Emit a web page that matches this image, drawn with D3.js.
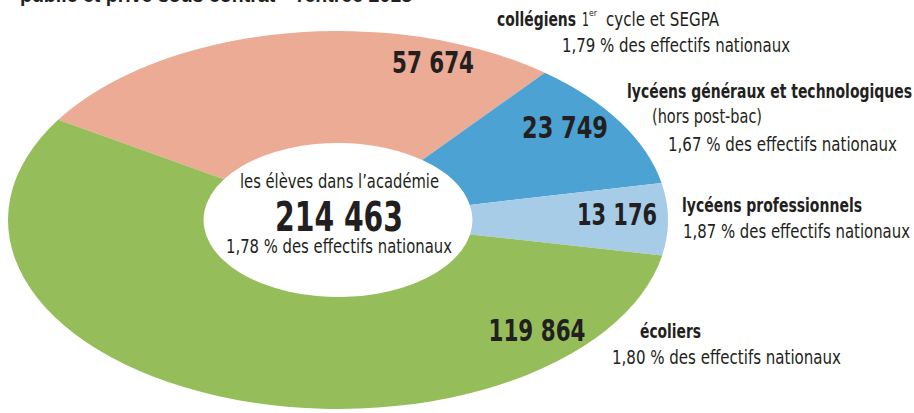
<!DOCTYPE html>
<html>
<head>
<meta charset="utf-8">
<script src="https://cdn.jsdelivr.net/npm/d3@7"></script>
<style>
  body { margin: 0; background: #fff; }
  text { font-family: "Liberation Sans Narrow", "DejaVu Sans Condensed", "Roboto", sans-serif; fill: #231f20; }
</style>
</head>
<body>
<script>
// data
var categories = ["collégiens", "lycéens généraux et technologiques", "lycéens professionnels", "écoliers"];
var values = [57674, 23749, 13176, 119864];
var shares = ["1,79", "1,67", "1,87", "1,80"];
var colors = ["#ebab94", "#4ca2d2", "#a7cce7", "#95be5a"];
var total = 214463;
var totalShare = "1,78";

var W = 914, H = 413;
var cx = 338, cy = 220;
var ry = 189, rx = 330, innerR = 77;
var sx = rx / ry;

var fmt = function(v) { return d3.format(",")(v).replace(/,/g, " "); };

var svg = d3.select("body").append("svg")
    .attr("width", W)
    .attr("height", H);

// title, cut by the top of the frame
svg.append("text")
    .attr("x", 20).attr("y", 2)
    .attr("font-size", 20).attr("font-weight", "bold")
    .attr("textLength", 392).attr("lengthAdjust", "spacingAndGlyphs")
    .style("font-family", "'Liberation Sans', Arial, sans-serif")
    .text("public et privé sous contrat – rentrée 2013");

var start = -58 * Math.PI / 180;
var pie = d3.pie().sort(null).startAngle(start).endAngle(start + 2 * Math.PI);
var arc = d3.arc().innerRadius(innerR).outerRadius(ry);

var g = svg.append("g")
    .attr("transform", "translate(" + cx + "," + cy + ") scale(" + sx + ",1)");

g.selectAll("path")
    .data(pie(values))
    .enter()
    .append("path")
    .attr("d", arc)
    .attr("fill", function(d, i) { return colors[i]; });

// number labels inside slices
var numPos = [
    {x: 433, y: 73, w: 82},
    {x: 565, y: 138, w: 86},
    {x: 617, y: 225, w: 80},
    {x: 537, y: 341, w: 97}
];

svg.selectAll("text.num")
    .data(values)
    .enter()
    .append("text")
    .attr("class", "num")
    .attr("x", function(d, i) { return numPos[i].x; })
    .attr("y", function(d, i) { return numPos[i].y; })
    .attr("text-anchor", "middle")
    .attr("font-size", 31)
    .attr("font-weight", "bold")
    .attr("textLength", function(d, i) { return numPos[i].w; })
    .attr("lengthAdjust", "spacingAndGlyphs")
    .text(function(d) { return fmt(d); });

// centre
function label(x, y, size, bold, width, txt) {
    return svg.append("text")
        .attr("x", x).attr("y", y)
        .attr("font-size", size)
        .attr("font-weight", bold ? "bold" : "normal")
        .attr("textLength", width)
        .attr("lengthAdjust", "spacingAndGlyphs")
        .text(txt);
}

label(240, 188, 20, false, 199, "les élèves dans l’académie");
label(275, 231, 41, true, 128, fmt(total));
label(226, 253, 20, false, 226, totalShare + " % des effectifs nationaux");

// right side legends
label(497, 26, 19, true, 79, categories[0]);
label(582, 26, 20, false, 7, "1");
label(589, 16, 9, false, 8, "er");
label(606, 26, 20, false, 113, "cycle et SEGPA");
label(562, 52, 20, false, 228, shares[0] + " % des effectifs nationaux");

label(627, 98, 19, true, 285, categories[1]);
label(652, 123, 20, false, 110, "(hors post-bac)");
label(668, 151, 20, false, 229, shares[1] + " % des effectifs nationaux");

label(682, 212, 19, true, 180, categories[2]);
label(683, 238, 20, false, 227, shares[2] + " % des effectifs nationaux");

label(640, 338, 19, true, 61, categories[3]);
label(612, 364, 20, false, 229, shares[3] + " % des effectifs nationaux");
</script>
</body>
</html>
